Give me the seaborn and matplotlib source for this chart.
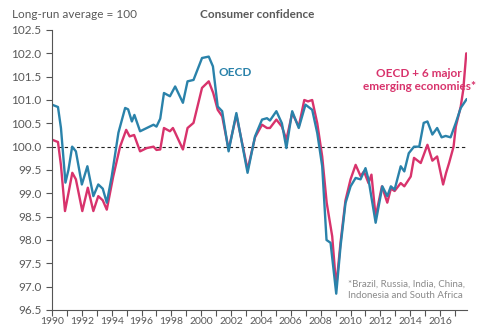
import numpy as np
import pandas as pd
import matplotlib
matplotlib.use("Agg")
import matplotlib.pyplot as plt
import seaborn as sns

# ---- data ----
oecd_t = [1990.0, 1990.4, 1990.6, 1990.9, 1991.1, 1991.35, 1991.6, 1992.0, 1992.37, 1992.77,
          1993.1, 1993.4, 1993.67, 1994.0, 1994.45, 1994.9, 1995.1, 1995.35, 1995.52, 1995.9,
          1996.35, 1996.8, 1997.0, 1997.25, 1997.5, 1997.9, 1998.25, 1998.77, 1999.08, 1999.48,
          2000.05, 2000.5, 2000.78, 2001.1, 2001.4, 2001.83, 2002.35, 2003.1, 2003.6, 2004.07,
          2004.4, 2004.6, 2005.03, 2005.4, 2005.7, 2006.09, 2006.53, 2006.98, 2007.43, 2007.77,
          2008.1, 2008.39, 2008.66, 2009.04, 2009.33, 2009.66, 2010.0, 2010.34, 2010.67, 2011.0,
          2011.2, 2011.68, 2012.13, 2012.46, 2012.7, 2012.95, 2013.36, 2013.6, 2013.9, 2014.25,
          2014.6, 2014.9, 2015.15, 2015.48, 2015.8, 2016.1, 2016.37, 2016.7, 2017.05, 2017.38,
          2017.78]
oecd_v = [100.9, 100.85, 100.4, 99.23, 99.5, 100.0, 99.9, 99.19, 99.58, 98.94,
          99.19, 99.1, 98.8, 99.36, 100.3, 100.83, 100.8, 100.54, 100.68, 100.33,
          100.4, 100.47, 100.43, 100.6, 101.15, 101.08, 101.29, 100.94, 101.4, 101.43,
          101.9, 101.93, 101.72, 100.86, 100.76, 99.9, 100.72, 99.44, 100.22, 100.58,
          100.61, 100.56, 100.76, 100.5, 99.97, 100.76, 100.4, 100.9, 100.79, 100.29,
          99.58, 98.0, 97.94, 96.85, 97.87, 98.79, 99.15, 99.33, 99.3, 99.54,
          99.3, 98.37, 99.15, 98.94, 99.15, 99.08, 99.58, 99.47, 99.86, 100.0,
          100.0, 100.51, 100.54, 100.26, 100.4, 100.2, 100.23, 100.2, 100.51, 100.83,
          101.02]

em_t = [1990.0, 1990.4, 1990.6, 1990.87, 1991.1, 1991.36, 1991.6, 1992.03, 1992.4, 1992.77,
        1993.1, 1993.4, 1993.67, 1994.1, 1994.56, 1994.97, 1995.2, 1995.5, 1995.9, 1996.35,
        1996.8, 1997.0, 1997.25, 1997.5, 1997.9, 1998.1, 1998.25, 1998.77, 1999.08, 1999.48,
        2000.05, 2000.5, 2000.8, 2001.1, 2001.4, 2001.83, 2002.35, 2003.1, 2003.6, 2004.07,
        2004.4, 2004.6, 2005.03, 2005.4, 2005.7, 2006.09, 2006.53, 2006.9, 2007.15, 2007.43,
        2007.77, 2008.1, 2008.4, 2008.77, 2009.04, 2009.33, 2009.66, 2010.0, 2010.34, 2010.67,
        2010.9, 2011.2, 2011.4, 2011.68, 2012.1, 2012.46, 2012.7, 2012.95, 2013.36, 2013.6,
        2014.03, 2014.25, 2014.7, 2015.15, 2015.48, 2015.8, 2016.2, 2016.4, 2016.6, 2016.9,
        2017.05, 2017.38, 2017.55, 2017.75]
em_v = [100.15, 100.1, 99.6, 98.62, 99.0, 99.44, 99.3, 98.62, 99.12, 98.62,
        98.94, 98.85, 98.65, 99.36, 100.0, 100.36, 100.22, 100.25, 99.9, 99.97,
        100.0, 99.93, 99.94, 100.4, 100.33, 100.4, 100.3, 99.94, 100.4, 100.51,
        101.26, 101.4, 101.15, 100.79, 100.65, 99.94, 100.68, 99.51, 100.2, 100.47,
        100.4, 100.4, 100.58, 100.43, 100.15, 100.72, 100.43, 101.0, 100.97, 101.0,
        100.5, 99.79, 98.8, 98.08, 97.0, 97.95, 98.85, 99.3, 99.61, 99.37,
        99.47, 99.22, 99.4, 98.5, 99.15, 98.8, 99.1, 99.05, 99.22, 99.15,
        99.36, 99.76, 99.65, 100.04, 99.7, 99.79, 99.19, 99.44, 99.65, 100.0,
        100.43, 100.86, 101.22, 102.0]

y_ticks = [96.5, 97.0, 97.5, 98.0, 98.5, 99.0, 99.5, 100.0, 100.5, 101.0, 101.5, 102.0, 102.5]
x_labels = list(range(1990, 2017, 2))

BLUE = "#2a82aa"
PINK = "#d8336c"
GREY = "#595959"

sns.set_theme(style="white")
plt.rcParams["font.family"] = ["Lato", "DejaVu Sans"]

df = pd.concat([
    pd.DataFrame({"t": oecd_t, "v": oecd_v, "s": "OECD"}),
    pd.DataFrame({"t": em_t, "v": em_v, "s": "EM"}),
])

fig = plt.figure(figsize=(4.86, 3.26), dpi=100)
ax = fig.add_axes([52 / 486, 16 / 326, 415 / 486, 280 / 326])

sns.lineplot(data=df, x="t", y="v", hue="s", hue_order=["EM", "OECD"],
             palette={"OECD": BLUE, "EM": PINK}, linewidth=1.7,
             legend=False, ax=ax, estimator=None, sort=False)
for ln in ax.get_lines():
    ln.set_solid_joinstyle("round")

ax.axhline(100.0, color="#222222", lw=0.8, ls=(0, (3, 2.5)), zorder=0)

ax.set_xlim(1990, 2017.8)
ax.set_ylim(96.5, 102.5)
ax.set_yticks(y_ticks)
ax.set_yticklabels([f"{v:.1f}" for v in y_ticks])
ax.set_xticks(list(range(1990, 2018)))
ax.set_xticklabels([str(y) if y in x_labels else "" for y in range(1990, 2018)])
ax.set_xlabel("")
ax.set_ylabel("")

for s in ["top", "right"]:
    ax.spines[s].set_visible(False)
for s in ["left", "bottom"]:
    ax.spines[s].set_color("#555555")
    ax.spines[s].set_linewidth(0.8)
ax.tick_params(axis="both", which="major", direction="out", length=4, width=0.8,
               color="#555555", labelcolor=GREY, labelsize=8.5, left=True, bottom=True)
ax.tick_params(axis="x", pad=1, labelsize=7.5)

fig.text(12 / 486, 1 - 14 / 326, "Long-run average = 100", fontsize=8.5, color=GREY,
         ha="left", va="center")
fig.text(200 / 486, 1 - 14 / 326, "Consumer confidence", fontsize=8.5, color=GREY,
         ha="left", va="center", fontweight="bold")
fig.text(218 / 486, 1 - 73 / 326, "OECD", fontsize=8.5, color=BLUE, ha="left",
         va="center", fontweight="bold")
fig.text(419 / 486, 1 - 80 / 326, "OECD + 6 major\nemerging economies*", fontsize=8.5,
         color=PINK, ha="center", va="center", fontweight="bold", linespacing=1.15)
fig.text(348 / 486, 1 - 290 / 326, "*Brazil, Russia, India, China,\nIndonesia and South Africa",
         fontsize=7, color="#8a8a8a", ha="left", va="center", linespacing=1.3)

fig.savefig("out.png", dpi=100)
